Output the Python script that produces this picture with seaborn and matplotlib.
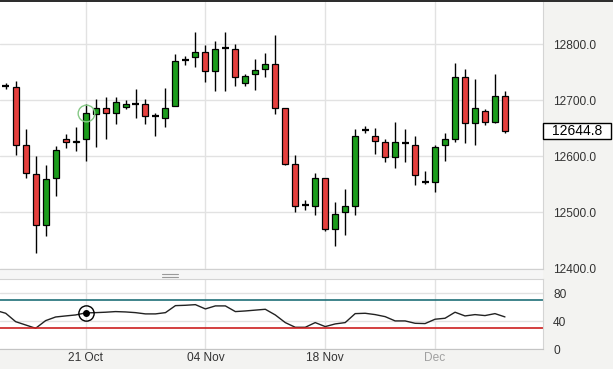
import numpy as np
import pandas as pd
import matplotlib.pyplot as plt
import seaborn as sns
from matplotlib.patches import Rectangle
from matplotlib.lines import Line2D

sns.set_style("white")
plt.rcParams["font.family"] = ["Liberation Sans", "DejaVu Sans"]

# daily candles (Sun-Fri sessions)
opens = [12725, 12723, 12620, 12568, 12478, 12561, 12630, 12625, 12630, 12675,
         12686, 12677, 12688, 12694, 12693, 12671, 12669, 12689, 12772, 12777,
         12786, 12752, 12793, 12792, 12730, 12746, 12755, 12764, 12686, 12587,
         12514, 12512, 12561, 12471, 12500, 12512, 12647, 12637, 12625, 12598,
         12624, 12621, 12554, 12554, 12620, 12630, 12741, 12659, 12680, 12662,
         12707]
highs = [12730, 12734, 12649, 12601, 12584, 12618, 12640, 12652, 12693, 12702,
         12705, 12705, 12700, 12720, 12702, 12678, 12721, 12782, 12778, 12821,
         12799, 12806, 12821, 12800, 12747, 12773, 12784, 12817, 12687, 12602,
         12523, 12571, 12561, 12518, 12542, 12649, 12654, 12650, 12631, 12662,
         12648, 12637, 12573, 12621, 12641, 12767, 12755, 12737, 12684, 12746,
         12716]
lows = [12720, 12603, 12562, 12428, 12458, 12530, 12615, 12610, 12591, 12617,
        12631, 12657, 12684, 12668, 12657, 12637, 12652, 12689, 12762, 12760,
        12732, 12717, 12717, 12725, 12726, 12718, 12741, 12675, 12584, 12501,
        12505, 12496, 12466, 12440, 12459, 12496, 12641, 12604, 12589, 12579,
        12590, 12548, 12550, 12537, 12592, 12626, 12623, 12621, 12655, 12659,
        12642]
closes = [12725, 12621, 12570, 12478, 12559, 12612, 12625, 12628, 12677, 12686,
          12677, 12696, 12693, 12694, 12672, 12671, 12687, 12770, 12772, 12786,
          12752, 12792, 12793, 12741, 12744, 12754, 12764, 12687, 12587, 12511,
          12514, 12561, 12471, 12498, 12511, 12636, 12647, 12627, 12598, 12625,
          12624, 12566, 12554, 12616, 12630, 12741, 12659, 12686, 12662, 12707,
          12644.8]

# RSI line, plus the session before the first visible candle
rsi_prev = 55.5
rsi = [51.4, 39.4, 34.7, 30.0, 40.9, 46.1, 47.6, 49.0, 51.9, 52.3,
       52.9, 53.8, 53.3, 52.3, 50.5, 50.5, 52.3, 62.3, 62.8, 63.7,
       57.6, 61.9, 61.9, 53.8, 54.7, 55.9, 57.1, 49.0, 38.1, 31.4,
       31.4, 38.1, 32.4, 36.2, 38.1, 50.9, 51.4, 49.5, 46.6, 40.5,
       40.5, 37.1, 36.7, 42.9, 44.3, 52.9, 47.6, 49.5, 48.1, 50.9,
       46.2]

tick_pos = [8, 20, 32, 43]
tick_labels = ["21 Oct", "04 Nov", "18 Nov", "Dec"]
tick_colors = ["#333333", "#333333", "#333333", "#a0a0a0"]
price_ticks = [12400, 12500, 12600, 12700, 12800]
rsi_ticks = [0, 40, 80]
last_price = 12644.8
marker_idx = 8

W, H = 613, 369
grid_col = "#e2e2e2"
fig = plt.figure(figsize=(W / 100, H / 100), dpi=100, facecolor="#f3f3f1")


def box(l, t, r, b):
    # pixel rectangle -> figure fraction
    return [l / W, 1 - b / H, (r - l) / W, (b - t) / H]


ax = fig.add_axes(box(0, 1.5, 543.3, 268.5))
ax2 = fig.add_axes(box(0, 278.5, 543.3, 349.3), sharex=ax)

df = pd.DataFrame({"open": opens, "high": highs, "low": lows, "close": closes})
df["x"] = np.arange(len(df))
up = df[df.close > df.open]
down = df[df.close < df.open]
flat = df[df.close == df.open]

# wicks, bodies, dojis
ax.vlines(df.x, df.low, df.high, color="black", lw=1, zorder=2)
ax.bar(up.x, up.close - up.open, bottom=up.open, width=0.6,
       color="#1c9c1c", edgecolor="black", lw=0.9, zorder=3)
ax.bar(down.x, down.open - down.close, bottom=down.close, width=0.6,
       color="#e5403e", edgecolor="black", lw=0.9, zorder=3)
ax.hlines(flat.close, flat.x - 0.35, flat.x + 0.35, color="black", lw=1.6, zorder=3)
ax.plot(marker_idx, closes[marker_idx], "o", ms=12, mfc="none",
        mec="#86c986", mew=1, zorder=4)

ax.set_xlim(-0.57, 53.84)
ax.set_ylim(12400, 12876)
ax.set_yticks(price_ticks)
ax.set_yticklabels([f"{p:.1f}" for p in price_ticks])
ax.set_xticks(tick_pos)
ax.tick_params(axis="x", labelbottom=False, length=0)
ax.yaxis.tick_right()
ax.tick_params(axis="y", length=0, pad=7, labelsize=8.6, labelcolor="#333333")
ax.grid(True, color=grid_col, lw=1)
ax.set_axisbelow(True)
for s in ["left", "top"]:
    ax.spines[s].set_visible(False)
ax.spines["right"].set_color("#d4d4d4")
ax.spines["bottom"].set_color("#d0d0d0")

# last price tag
ax.add_patch(Rectangle((1.0, last_price - 14.3), 67.5 / 543.3, 28.6,
                       transform=ax.get_yaxis_transform(), clip_on=False,
                       fc="white", ec="black", lw=1, zorder=5))
ax.text(1.0 + 34 / 543.3, last_price, f"{last_price:.1f}",
        transform=ax.get_yaxis_transform(), ha="center", va="center",
        fontsize=10, color="black", zorder=6)

# RSI panel
rsi_x = [-1] + list(df.x)
sns.lineplot(x=rsi_x, y=[rsi_prev] + rsi, ax=ax2, color="#222222", lw=1)
ax2.axhline(70, color="#1f6f78", lw=1.2)
ax2.axhline(30, color="#cc1f1f", lw=1.2)
ax2.plot(marker_idx, rsi[marker_idx], "o", ms=11, mfc="none", mec="black", mew=1)
ax2.plot(marker_idx, rsi[marker_idx], "o", ms=4, color="black")
ax2.set_ylim(0, 101)
ax2.set_yticks(rsi_ticks)
ax2.set_xticks(tick_pos)
ax2.set_xticklabels(tick_labels)
for lab, c in zip(ax2.get_xticklabels(), tick_colors):
    lab.set_color(c)
ax2.yaxis.tick_right()
ax2.tick_params(axis="y", length=0, pad=7, labelsize=8.6, labelcolor="#333333")
ax2.tick_params(axis="x", length=0, pad=2, labelsize=8.6)
ax2.grid(True, color=grid_col, lw=1)
ax2.set_axisbelow(True)
ax2.spines["left"].set_visible(False)
ax2.spines["top"].set_color("#d4d4d4")
ax2.spines["right"].set_color("#d4d4d4")
ax2.spines["bottom"].set_color("#c4c4c4")
ax2.set_xlabel("")

# separator strip with drag handle, top border
fig.add_artist(Rectangle((0, 1 - 278.5 / H), 543.3 / W, 10 / H,
                         transform=fig.transFigure, fc="#f6f6f6", ec="none", zorder=0))
for yy in [274.3, 276.7]:
    fig.add_artist(Line2D([162 / W, 178 / W], [1 - yy / H] * 2,
                          transform=fig.transFigure, color="#9a9a9a", lw=0.8))
fig.add_artist(Rectangle((0, 1 - 1.5 / H), 1, 1.5 / H, transform=fig.transFigure,
                         fc="#2e2e2e", ec="none"))

fig.savefig("out.png", dpi=100, facecolor=fig.get_facecolor())
